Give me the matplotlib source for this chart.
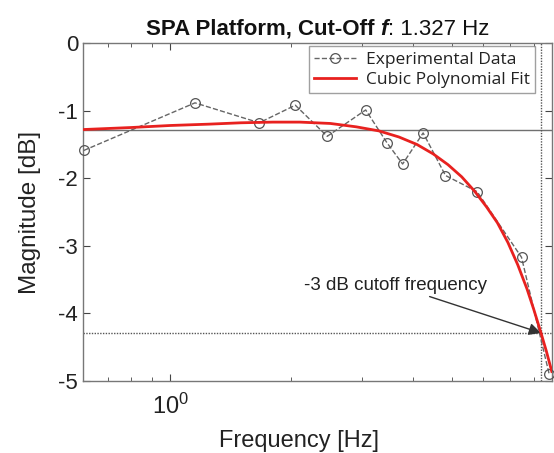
import matplotlib
matplotlib.use("Agg")
import matplotlib.pyplot as plt
from matplotlib.offsetbox import TextArea, HPacker, AnchoredOffsetbox
from matplotlib.ticker import NullFormatter, FixedLocator

plt.rcParams['font.family'] = ['Liberation Sans', 'DejaVu Sans']
plt.rcParams['axes.unicode_minus'] = False

# measured points (magnitude ratio in dB)
freq_exp = [0.61, 1.153, 1.665, 2.046, 2.456, 3.06, 3.46, 3.78, 4.25, 4.83, 5.79, 7.46, 8.74]
mag_exp = [-1.59, -0.885, -1.18, -0.92, -1.38, -0.99, -1.48, -1.79, -1.33, -1.96, -2.20, -3.17, -4.90]

# cubic fit curve
freq_fit = [0.608, 0.8, 1.0, 1.25, 1.5, 1.8, 2.1, 2.5, 2.9, 3.3, 3.7, 4.1, 4.5, 4.9,
            5.3, 5.7, 6.1, 6.5, 6.9, 7.3, 7.7, 8.0, 8.34, 8.6, 8.87]
mag_fit = [-1.28, -1.25, -1.22, -1.20, -1.18, -1.17, -1.17, -1.19, -1.24, -1.30, -1.39,
           -1.50, -1.64, -1.80, -1.98, -2.19, -2.42, -2.66, -2.95, -3.28, -3.64, -3.94,
           -4.29, -4.56, -4.86]

ref_level = -1.29
cut_level = -4.29
cut_freq = 8.34

fig = plt.figure(figsize=(5.54, 4.53), dpi=100)
ax = fig.add_axes([0.150, 0.159, 0.846, 0.746])

ax.axhline(ref_level, color='#707070', lw=1.0, zorder=1)
ax.axhline(cut_level, color='#555555', lw=1.0, ls=(0, (1, 1)), zorder=1)
ax.axvline(cut_freq, color='#555555', lw=1.0, ls=(0, (1, 1)), zorder=1)

ax.plot(freq_exp, mag_exp, ls='--', color='#666666', lw=1.0, marker='o',
        mfc='none', mec='#555555', ms=7, mew=0.9, label='Experimental Data', clip_on=False, zorder=3)
ax.plot(freq_fit, mag_fit, color='#e8211f', lw=2.0, label='Cubic Polynomial Fit', zorder=4)

ax.set_xscale('log')
ax.set_xlim(0.608, 8.87)
ax.set_ylim(-5, 0)
ax.set_yticks([0, -1, -2, -3, -4, -5])
ax.xaxis.set_minor_formatter(NullFormatter())
ax.xaxis.set_minor_locator(FixedLocator([0.7, 0.8, 0.9, 2, 3, 4, 5, 6, 7, 8]))

ax.tick_params(which='both', direction='in', top=True, right=True, colors='#444444',
               labelcolor='#222222', labelsize=16)
ax.tick_params(axis='x', which='major', pad=9, labelsize=17)
ax.tick_params(which='major', length=5)
ax.tick_params(which='minor', length=3)
for s in ax.spines.values():
    s.set_color('#777777')
    s.set_linewidth(1.0)

ax.set_xlabel('Frequency [Hz]', fontsize=17, color='#222222')
ax.xaxis.set_label_coords(0.46, -0.145)
ax.set_ylabel('Magnitude [dB]', fontsize=17.5, color='#222222')
ax.yaxis.set_label_coords(-0.09, 0.5)

ax.annotate('-3 dB cutoff frequency', xy=(cut_freq, cut_level), xytext=(6.11, -3.71),
            fontsize=13.5, color='#222222', ha='right', va='bottom',
            arrowprops=dict(arrowstyle='-|>', color='#333333', lw=1.0, mutation_scale=18,
                            shrinkA=0, shrinkB=0))

leg = ax.legend(loc='upper right', bbox_to_anchor=(0.965, 0.99), fontsize=12.5,
                frameon=True, fancybox=False, edgecolor='#888888', borderpad=0.3,
                handlelength=2.4, labelspacing=0.25, borderaxespad=0, handletextpad=0.6)
for t in leg.get_texts():
    t.set_fontfamily('Open Sans')
    t.set_color('#222222')

# title with mixed weights
parts = [
    TextArea('SPA Platform, Cut-Off ', textprops=dict(fontsize=16, fontweight='bold', color='#111111')),
    TextArea('f', textprops=dict(fontsize=16, fontweight='bold', fontstyle='italic', color='#111111')),
    TextArea(': 1.327 Hz', textprops=dict(fontsize=16, color='#111111')),
]
box = HPacker(children=parts, align='baseline', pad=0, sep=0)
anch = AnchoredOffsetbox(loc='lower center', child=box, pad=0, frameon=False,
                         bbox_to_anchor=(0.5, 1.01), bbox_transform=ax.transAxes, borderpad=0)
ax.add_artist(anch)

fig.savefig('out.png', dpi=100)
